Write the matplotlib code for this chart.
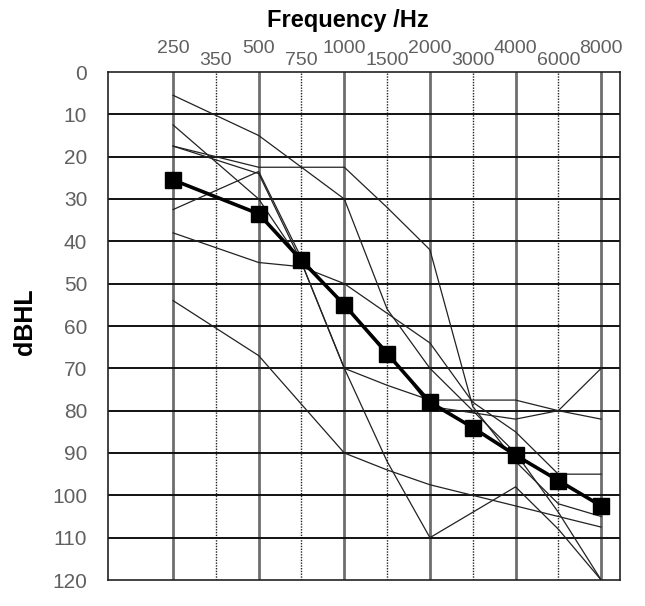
import matplotlib
matplotlib.use('Agg')
import matplotlib.pyplot as plt

plt.rcParams['font.family'] = ['Liberation Sans', 'DejaVu Sans']

# частоты (Гц) для подписей и точек
octave_labels = [250, 500, 1000, 2000, 4000, 8000]
half_labels = [350, 750, 1500, 3000, 6000]
all_ticks = [250, 350, 500, 750, 1000, 1500, 2000, 3000, 4000, 6000, 8000]
freqs = [250, 500, 750, 1000, 1500, 2000, 3000, 4000, 6000, 8000]

# пороги слуха отдельных пациентов, дБ HL
patient_1 = [5.5, 15, 22.5, 30, 56, 70, 80, 90, 104, 120]
patient_2 = [54, 67, 78.5, 90, 94, 97.5, 100, 102.5, 105, 107.5]
patient_3 = [17.5, 24, 45, 70, 92, 110, 104, 98, 108, 120]
patient_4 = [17.5, 22.5, 22.5, 22.5, 32, 42, 79, 92, 102, 105]
patient_5 = [12.5, 30, 45, 70, 74, 77.5, 77.5, 77.5, 80, 82]
patient_6 = [32.5, 23.5, 44, 55, 66, 79, 80.5, 82, 80, 70]
patient_7 = [38, 45, 46, 50, 57, 64, 78, 85, 95, 95]
patients = [patient_1, patient_2, patient_3, patient_4, patient_5, patient_6, patient_7]

# среднее значение
mean_db = [25.5, 33.5, 44.5, 55, 66.5, 78, 84, 90.5, 96.5, 102.5]

db_ticks = list(range(0, 130, 10))

# равный шаг по полуоктавам, как на аудиограмме
pos = {f: i / 2 for i, f in enumerate(all_ticks)}
x = [pos[f] for f in freqs]

fig = plt.figure(figsize=(6.45, 6.06), dpi=100)
ax = fig.add_axes([108 / 645, 1 - 580 / 606, 512 / 645, 508 / 606])

# сетка
for f in octave_labels:
    ax.axvline(pos[f], color='#6e6e6e', lw=2.0, zorder=1)
for f in half_labels:
    ax.axvline(pos[f], color='#222222', lw=1.0, ls=(0, (1, 1)), zorder=1)
for d in db_ticks[1:-1]:
    ax.axhline(d, color='#111111', lw=1.4, zorder=1)

for p in patients:
    ax.plot(x, p, color='#222222', lw=0.9, zorder=2)

ax.plot(x, mean_db, color='black', lw=2.6, marker='s', markersize=11, zorder=3)

ax.set_xlim(-0.76, 5.22)
ax.set_ylim(120, 0)

ax.set_yticks(db_ticks)
ax.set_yticklabels([str(d) for d in db_ticks])
ax.tick_params(axis='y', length=0, pad=15, labelsize=15, labelcolor='#606060')

ax.xaxis.tick_top()
ax.set_xticks([pos[f] for f in octave_labels])
ax.set_xticklabels([str(f) for f in octave_labels])
ax.set_xticks([pos[f] for f in half_labels], minor=True)
ax.set_xticklabels([str(f) for f in half_labels], minor=True)
ax.tick_params(axis='x', which='major', length=0, pad=11, labelsize=14, labelcolor='#606060')
ax.tick_params(axis='x', which='minor', length=0, pad=2, labelsize=14, labelcolor='#606060')

for s in ax.spines.values():
    s.set_color('#222222')
    s.set_linewidth(1.2)

fig.text(348 / 645, 1 - 21 / 606, 'Frequency /Hz', ha='center', va='center',
         fontsize=17, fontweight='bold')
fig.text(25 / 645, 1 - 322 / 606, 'dBHL', ha='center', va='center',
         rotation=90, fontsize=18, fontweight='bold')

fig.savefig('out.png', dpi=100, facecolor='white')
